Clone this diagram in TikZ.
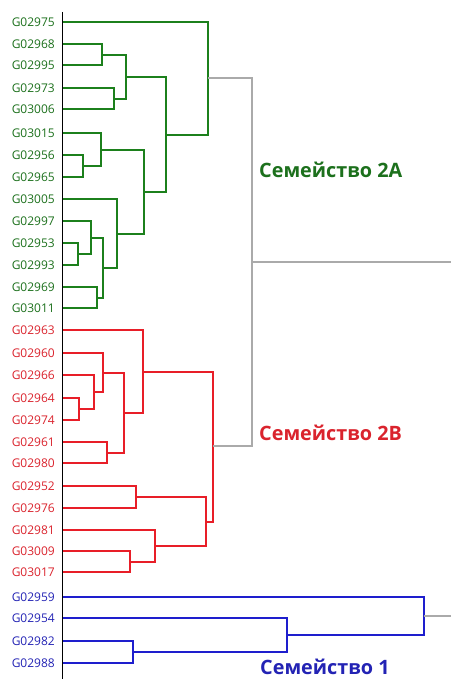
\documentclass[tikz,border=0pt]{standalone}
\usepackage{fontspec}
\setmainfont{Open Sans}
\definecolor{cgreen}{RGB}{28,128,28}
\definecolor{cgreent}{RGB}{28,112,28}
\definecolor{cred}{RGB}{232,30,40}
\definecolor{credt}{RGB}{218,35,45}
\definecolor{cblue}{RGB}{30,30,205}
\definecolor{cbluet}{RGB}{35,35,180}
\definecolor{cgrey}{RGB}{170,170,170}
\begin{document}
\begin{tikzpicture}[x=1pt,y=-1pt,
  leaf/.style={anchor=east,inner sep=0pt,font=\fontsize{12}{13}\selectfont},
  fam/.style={anchor=base west,inner sep=0pt,font=\fontsize{19.8}{21}\selectfont\bfseries},
  gl/.style={draw=cgreen,line width=1.8pt},
  rl/.style={draw=cred,line width=1.8pt},
  bl/.style={draw=cblue,line width=1.8pt},
  yl/.style={draw=cgrey,line width=1.5pt}]
\useasboundingbox (0,0) rectangle (451,679);
% axis
\coordinate (axtop) at (62,12);
\coordinate (axbot) at (62,679);
\draw[black,line width=0.9pt] (axtop) -- (axbot);
% leaves
\foreach \n/\y/\c in {G02975/22/cgreent,G02968/44/cgreent,G02995/65/cgreent,G02973/88/cgreent,G03006/109/cgreent,G03015/133/cgreent,G02956/155/cgreent,G02965/177/cgreent,G03005/199/cgreent,G02997/221/cgreent,G02953/243/cgreent,G02993/265/cgreent,G02969/287/cgreent,G03011/308/cgreent,
  G02963/330/credt,G02960/353/credt,G02966/375/credt,G02964/398/credt,G02974/420/credt,G02961/442/credt,G02980/463/credt,G02952/486/credt,G02976/508/credt,G02981/530/credt,G03009/551/credt,G03017/572/credt,
  G02959/597/cbluet,G02954/618/cbluet,G02982/641/cbluet,G02988/663/cbluet}{
  \node[leaf,text=\c] (t\n) at (55,\y) {\n};
  \coordinate (\n) at (63,\y);
}
% green internal nodes
\coordinate (g1) at (102,55);
\coordinate (g2) at (114,99);
\coordinate (g3) at (126,77);
\coordinate (g4) at (83,166);
\coordinate (g5) at (101,150);
\coordinate (g6) at (78,254);
\coordinate (g7) at (91,238);
\coordinate (g8) at (97,298);
\coordinate (g9) at (103,268);
\coordinate (g10) at (117,234);
\coordinate (g11) at (144,192);
\coordinate (g12) at (166,135);
\coordinate (g13) at (208,78);
\draw[gl] (G02968) -| (g1) |- (G02995);
\draw[gl] (G02973) -| (g2) |- (G03006);
\draw[gl] (g1) -| (g3) |- (g2);
\draw[gl] (G02956) -| (g4) |- (G02965);
\draw[gl] (G03015) -| (g5) |- (g4);
\draw[gl] (G02953) -| (g6) |- (G02993);
\draw[gl] (G02997) -| (g7) |- (g6);
\draw[gl] (G02969) -| (g8) |- (G03011);
\draw[gl] (g7) -| (g9) |- (g8);
\draw[gl] (G03005) -| (g10) |- (g9);
\draw[gl] (g5) -| (g11) |- (g10);
\draw[gl] (g3) -| (g12) |- (g11);
\draw[gl] (G02975) -| (g13) |- (g12);
% red internal nodes
\coordinate (r1) at (79,409);
\coordinate (r2) at (94,392);
\coordinate (r3) at (103,373);
\coordinate (r4) at (107,453);
\coordinate (r5) at (124,413);
\coordinate (r6) at (143,372);
\coordinate (r7) at (136,497);
\coordinate (r8) at (130,562);
\coordinate (r9) at (155,546);
\coordinate (r10) at (206,522);
\coordinate (r11) at (213,446);
\draw[rl] (G02964) -| (r1) |- (G02974);
\draw[rl] (G02966) -| (r2) |- (r1);
\draw[rl] (G02960) -| (r3) |- (r2);
\draw[rl] (G02961) -| (r4) |- (G02980);
\draw[rl] (r3) -| (r5) |- (r4);
\draw[rl] (G02963) -| (r6) |- (r5);
\draw[rl] (G02952) -| (r7) |- (G02976);
\draw[rl] (G03009) -| (r8) |- (G03017);
\draw[rl] (G02981) -| (r9) |- (r8);
\draw[rl] (r7) -| (r10) |- (r9);
\draw[rl] (r6) -| (r11) |- (r10);
% blue internal nodes
\coordinate (b1) at (133,652);
\coordinate (b2) at (287,635);
\coordinate (b3) at (424,616);
\coordinate (bend) at (451,616);
\draw[bl] (G02982) -| (b1) |- (G02988);
\draw[bl] (G02954) -| (b2) |- (b1);
\draw[bl] (G02959) -| (b3) |- (b2);
% grey root
\coordinate (y1) at (252,262);
\coordinate (yend) at (451,262);
\draw[yl] (g13) -| (y1) |- (r11);
\draw[yl] (y1) -- (yend);
\draw[yl] (b3) -- (bend);
% family labels
\node[fam,text=cgreent] (f2a) at (259,177) {Семейство 2А};
\node[fam,text=credt] (f2b) at (259,440) {Семейство 2В};
\node[fam,text=cbluet] (f1) at (260,674.5) {Семейство 1};
\end{tikzpicture}
\end{document}
